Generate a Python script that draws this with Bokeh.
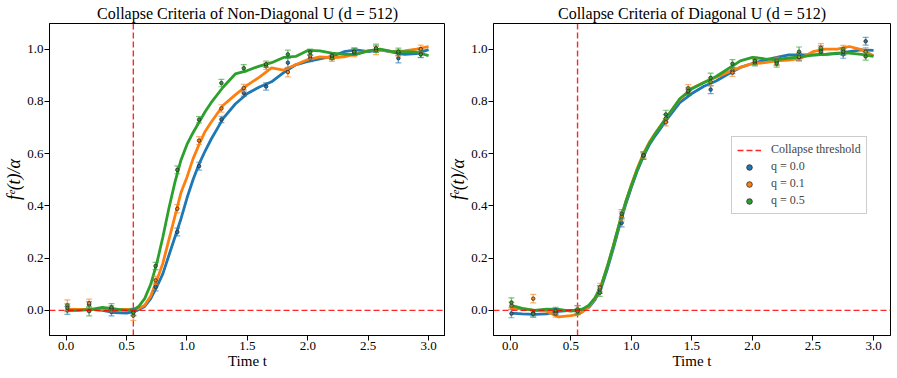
import math
from bokeh.plotting import figure
from bokeh.layouts import row
from bokeh.models import Span, Legend, LegendItem, FixedTicker, NumeralTickFormatter
from bokeh.embed import file_html
from bokeh.resources import INLINE

# ---------------- data ----------------
t_pts = [0.01, 0.19, 0.375, 0.556, 0.74, 0.92, 1.10, 1.285, 1.47, 1.655,
         1.835, 2.02, 2.20, 2.385, 2.565, 2.75, 2.935]
t_line = [0.0, 0.1, 0.2, 0.3, 0.4, 0.5, 0.56, 0.6, 0.65, 0.7, 0.75, 0.8, 0.85,
          0.9, 0.95, 1.0, 1.05, 1.1, 1.15, 1.2, 1.3, 1.4, 1.5, 1.6, 1.7, 1.8,
          1.9, 2.0, 2.1, 2.2, 2.3, 2.4, 2.5, 2.6, 2.7, 2.8, 2.9, 3.0]

# Non-diagonal U
nd_line_q00 = [0.0, 0.002, 0.004, 0.0, -0.008, -0.01, -0.005, 0.003, 0.015, 0.045, 0.09, 0.14, 0.21,
               0.28, 0.35, 0.43, 0.50, 0.56, 0.61, 0.655, 0.735, 0.79, 0.83, 0.855, 0.875, 0.91,
               0.94, 0.953, 0.963, 0.972, 0.99, 0.997, 0.99, 0.997, 0.988, 0.98, 0.983, 0.998]
nd_line_q01 = [0.005, 0.004, 0.004, 0.005, 0.004, 0.004, 0.005, 0.007, 0.02, 0.055, 0.115, 0.18, 0.27,
               0.36, 0.45, 0.51, 0.58, 0.635, 0.685, 0.72, 0.785, 0.825, 0.862, 0.893, 0.928, 0.92,
               0.94, 0.96, 0.97, 0.967, 0.97, 0.982, 0.993, 0.997, 0.99, 0.993, 1.0, 1.01]
nd_line_q05 = [0.0, 0.0, 0.003, 0.012, 0.006, 0.0, 0.003, 0.015, 0.045, 0.10, 0.18, 0.28, 0.39,
               0.49, 0.575, 0.635, 0.68, 0.72, 0.76, 0.795, 0.855, 0.905, 0.918, 0.935, 0.948, 0.968,
               0.972, 0.995, 0.993, 0.985, 0.98, 0.98, 0.993, 1.0, 0.99, 0.99, 0.988, 0.975]

nd_pts_q00 = [0.0, 0.022, -0.006, -0.005, 0.09, 0.30, 0.552, 0.731, 0.832, 0.857,
              0.948, 0.965, 0.972, 0.992, 1.0, 0.965, 0.982]
nd_pts_q01 = [0.02, 0.027, 0.006, -0.02, 0.115, 0.389, 0.65, 0.773, 0.851, 0.934,
              0.912, 0.975, 0.965, 0.985, 0.995, 0.985, 1.0]
nd_pts_q05 = [0.01, -0.003, 0.012, -0.008, 0.17, 0.538, 0.73, 0.87, 0.927, 0.942,
              0.98, 0.988, 0.975, 0.99, 1.003, 0.99, 0.98]
nd_err_q00 = [0.015, 0.012, 0.015, 0.013, 0.015, 0.015, 0.015, 0.012, 0.012, 0.014,
              0.02, 0.013, 0.012, 0.012, 0.012, 0.018, 0.015]
nd_err_q01 = [0.02, 0.016, 0.012, 0.018, 0.016, 0.016, 0.015, 0.014, 0.014, 0.012,
              0.018, 0.014, 0.012, 0.014, 0.016, 0.012, 0.015]
nd_err_q05 = [0.015, 0.018, 0.014, 0.012, 0.014, 0.015, 0.012, 0.014, 0.014, 0.012,
              0.016, 0.012, 0.012, 0.014, 0.016, 0.014, 0.012]

# Diagonal U
d_line_q00 = [-0.01, -0.013, -0.015, -0.013, -0.004, 0.0, 0.0, 0.003, 0.012, 0.04, 0.085, 0.155, 0.235,
              0.32, 0.40, 0.47, 0.535, 0.59, 0.635, 0.67, 0.735, 0.795, 0.83, 0.858, 0.878, 0.905,
              0.93, 0.945, 0.958, 0.968, 0.978, 0.978, 0.978, 0.98, 0.983, 0.99, 0.997, 0.995]
d_line_q01 = [0.01, 0.005, 0.0, -0.003, -0.025, -0.02, -0.015, -0.005, 0.015, 0.045, 0.095, 0.165, 0.245,
              0.33, 0.41, 0.48, 0.545, 0.60, 0.645, 0.68, 0.745, 0.808, 0.85, 0.872, 0.892, 0.912,
              0.93, 0.945, 0.948, 0.955, 0.958, 0.965, 0.99, 1.0, 1.0, 1.01, 0.998, 0.975]
d_line_q05 = [0.02, 0.008, 0.0, 0.005, 0.004, -0.003, 0.0, 0.006, 0.02, 0.048, 0.093, 0.165, 0.245,
              0.33, 0.41, 0.478, 0.54, 0.595, 0.64, 0.678, 0.745, 0.81, 0.848, 0.872, 0.895, 0.925,
              0.955, 0.968, 0.963, 0.96, 0.966, 0.97, 0.977, 0.98, 0.985, 0.985, 0.98, 0.972]

d_pts_q00 = [-0.012, -0.01, -0.005, 0.004, 0.08, 0.335, 0.59, 0.735, 0.835, 0.845,
             0.918, 0.948, 0.95, 0.97, 0.998, 0.98, 1.03]
d_pts_q01 = [0.018, 0.045, -0.012, 0.002, 0.088, 0.36, 0.595, 0.72, 0.85, 0.875,
             0.91, 0.95, 0.955, 0.97, 1.005, 1.0, 0.99]
d_pts_q05 = [0.03, -0.013, 0.0, -0.004, 0.068, 0.37, 0.593, 0.75, 0.84, 0.89,
             0.944, 0.955, 0.945, 0.99, 0.99, 0.99, 0.972]
d_err_q00 = [0.016, 0.012, 0.012, 0.014, 0.015, 0.015, 0.012, 0.014, 0.012, 0.015,
             0.012, 0.012, 0.012, 0.014, 0.014, 0.015, 0.015]
d_err_q01 = [0.014, 0.016, 0.014, 0.016, 0.016, 0.018, 0.012, 0.014, 0.014, 0.016,
             0.014, 0.012, 0.014, 0.016, 0.016, 0.014, 0.016]
d_err_q05 = [0.018, 0.014, 0.012, 0.012, 0.014, 0.016, 0.014, 0.016, 0.014, 0.018,
             0.016, 0.014, 0.014, 0.018, 0.014, 0.014, 0.014]

q_labels = ["q = 0.0", "q = 0.1", "q = 0.5"]
threshold_t = 0.556
threshold_y = 0.0
x_ticks = [0.0, 0.5, 1.0, 1.5, 2.0, 2.5, 3.0]
y_ticks = [0.0, 0.2, 0.4, 0.6, 0.8, 1.0]
titles = ["Collapse Criteria of Non-Diagonal U (d = 512)",
          "Collapse Criteria of Diagonal U (d = 512)"]

# ---------------- style ----------------
COLORS = ["#1f77b4", "#ff7f0e", "#2ca02c"]
FONT = "Liberation Serif"
RED = "#ff0000"
X_RANGE = (-0.138, 3.14)
Y_RANGE = (-0.096, 1.098)
H = 372


def make_panel(title, lines, pts, errs, width, bl, br, legend=False):
    p = figure(width=width, height=H, x_range=X_RANGE, y_range=Y_RANGE,
               output_backend="svg", toolbar_location=None,
               min_border_left=bl, min_border_right=br,
               min_border_top=23, min_border_bottom=37)
    p.title.text = title
    p.title.align = "center"
    p.title.text_font = FONT
    p.title.text_font_size = "16px"
    p.title.text_font_style = "normal"
    p.title.text_color = "black"
    p.title.standoff = 3
    p.title.offset = 0
    p.grid.visible = False
    p.outline_line_color = "black"
    p.outline_line_alpha = 1.0
    p.outline_line_width = 1
    for ax in p.axis:
        ax.major_tick_out = 5
        ax.major_tick_in = 0
        ax.minor_tick_out = 0
        ax.minor_tick_in = 0
        ax.axis_line_color = "black"
        ax.major_tick_line_color = "black"
        ax.major_label_text_font = FONT
        ax.major_label_text_font_size = "13px"
        ax.major_label_text_color = "black"
        ax.axis_label_text_font = FONT
        ax.axis_label_text_color = "black"
        ax.formatter = NumeralTickFormatter(format="0.0")
    p.xaxis.ticker = FixedTicker(ticks=x_ticks)
    p.yaxis.ticker = FixedTicker(ticks=y_ticks)
    p.xaxis.axis_label = "Time t"
    p.xaxis.axis_label_text_font_size = "15px"
    p.xaxis.axis_label_text_font_style = "normal"
    p.xaxis.major_label_standoff = 1
    p.xaxis.axis_label_standoff = 0
    p.yaxis.axis_label = "fᵉ(t)/α"
    p.yaxis.axis_label_text_font_size = "18px"
    p.yaxis.axis_label_text_font_style = "italic"
    p.yaxis.major_label_standoff = 1
    p.yaxis.axis_label_standoff = 0

    # threshold lines
    p.add_layout(Span(location=threshold_y, dimension="width", line_color=RED,
                      line_alpha=0.85, line_dash="6 3", line_width=1.4))
    r_thr = p.line(x=[threshold_t, threshold_t], y=[Y_RANGE[0], Y_RANGE[1]],
                   line_color=RED, line_alpha=0.85, line_dash="6 3", line_width=1.4)

    for ys, c in zip(lines, COLORS):
        p.line(t_line, ys, line_color=c, line_width=2.8)

    markers = []
    for vs, es, c in zip(pts, errs, COLORS):
        lo = [v - e for v, e in zip(vs, es)]
        hi = [v + e for v, e in zip(vs, es)]
        p.segment(x0=t_pts, y0=lo, x1=t_pts, y1=hi, line_color=c,
                  line_width=1.5, line_alpha=0.6)
        p.scatter(x=t_pts + t_pts, y=lo + hi, marker="dash", size=6,
                  line_color=c, line_width=1.2, line_alpha=0.6)
        m = p.scatter(x=t_pts, y=vs, marker="circle", size=3.5, fill_color=c,
                      line_color="#2a2a2a", line_width=0.8)
        markers.append(m)

    if legend:
        items = [LegendItem(label="Collapse threshold", renderers=[r_thr])]
        for lab, m in zip(q_labels, markers):
            items.append(LegendItem(label=lab, renderers=[m]))
        lg = Legend(items=items, location=(238, 121),
                    label_text_font=FONT, label_text_font_size="12px",
                    glyph_width=24, glyph_height=14, label_height=14,
                    spacing=2, padding=5, label_standoff=10,
                    border_line_color="#cccccc", border_line_alpha=1.0,
                    background_fill_alpha=0.85)
        p.add_layout(lg)
    return p


p1 = make_panel(titles[0], [nd_line_q00, nd_line_q01, nd_line_q05],
                [nd_pts_q00, nd_pts_q01, nd_pts_q05],
                [nd_err_q00, nd_err_q01, nd_err_q05], 445, 49, 0)
p2 = make_panel(titles[1], [d_line_q00, d_line_q01, d_line_q05],
                [d_pts_q00, d_pts_q01, d_pts_q05],
                [d_err_q00, d_err_q01, d_err_q05], 452, 48, 7, legend=True)

layout = row(p1, p2)
open("out.html", "w").write(file_html(layout, INLINE))
